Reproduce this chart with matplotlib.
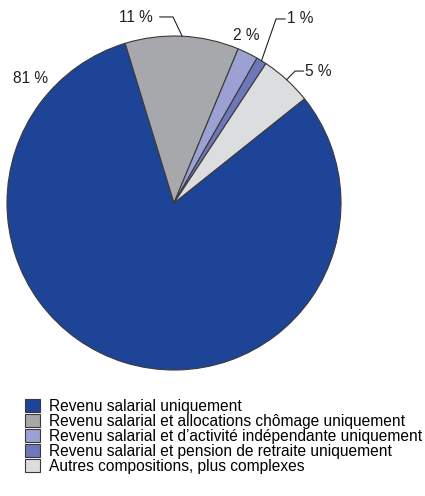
import numpy as np
import matplotlib.pyplot as plt

# police proche de l'original
plt.rcParams['font.family'] = ['Liberation Sans', 'DejaVu Sans']
plt.rcParams['font.size'] = 11.2

# données
categories = ['Revenu salarial uniquement',
              'Revenu salarial et allocations chômage uniquement',
              'Revenu salarial et d\u2019activité indépendante uniquement',
              'Revenu salarial et pension de retraite uniquement',
              'Autres compositions, plus complexes']
values = [81, 11, 2, 1, 5]
pct_labels = ['81 %', '11 %', '2 %', '1 %', '5 %']
colors = ['#1d4496', '#a7a8ab', '#9ca1d3', '#6f77bb', '#dcdddf']

fig = plt.figure(figsize=(4.25, 4.96), dpi=100)
ax = fig.add_axes([7 / 425, 126 / 496, 334 / 425, 334 / 496])

wedges, _ = ax.pie(values, colors=colors, startangle=38.6, counterclock=False,
                   wedgeprops=dict(edgecolor='#3a3a3a', linewidth=0.8))
for w in wedges:
    w.set_clip_on(False)
ax.set_xlim(-1, 1)
ax.set_ylim(-1, 1)
ax.set_aspect('equal')
ax.axis('off')

# position des étiquettes (coordonnées des données, rayon = 1)
text_pos = {0: (-0.86, 0.745, 'center'),
            1: (-0.13, 1.108, 'right'),
            2: (0.435, 1.0, 'center'),
            3: (0.675, 1.102, 'left'),
            4: (0.785, 0.79, 'left')}
# coudes des traits de rappel
elbows = {1: [(-0.006, 1.114), (-0.085, 1.114)],
          3: [(0.611, 1.102), (0.665, 1.102)],
          4: [(0.725, 0.79), (0.775, 0.79)]}

for i, w in enumerate(wedges):
    x, y, ha = text_pos[i]
    ax.text(x, y, pct_labels[i], ha=ha, va='center', color='#231f20')
    if i in elbows:
        mid = np.deg2rad((w.theta1 + w.theta2) / 2)
        pts = [(np.cos(mid), np.sin(mid))] + elbows[i]
        xs, ys = zip(*pts)
        ax.plot(xs, ys, color='#231f20', lw=0.8, clip_on=False)

fig.legend(wedges, categories, loc='upper left',
           bbox_to_anchor=(25 / 425, 1 - 399 / 496),
           frameon=False, handlelength=0.95, handleheight=0.9,
           handletextpad=0.6, labelspacing=0.0, borderpad=0, borderaxespad=0)

plt.savefig('out.png', dpi=100)
